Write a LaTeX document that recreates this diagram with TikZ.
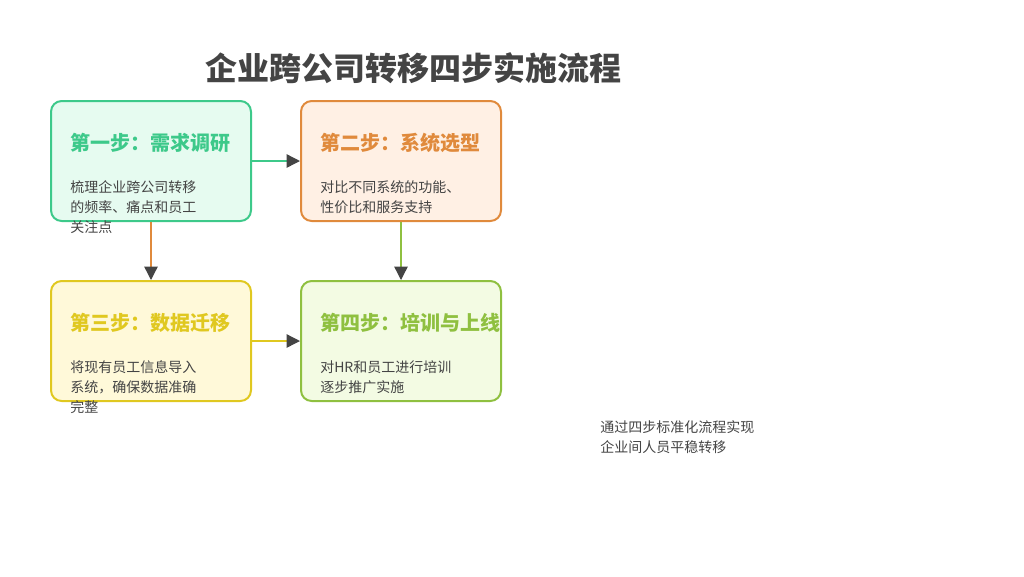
\documentclass[tikz,border=0pt]{standalone}
\usepackage{fontspec}
\setmainfont{Noto Sans CJK SC}
\newfontfamily\cjk{Noto Sans CJK SC}
\usetikzlibrary{arrows.meta}
\definecolor{cA}{HTML}{3DC98A}\definecolor{fA}{HTML}{E6FBF0}
\definecolor{cB}{HTML}{E08A3C}\definecolor{fB}{HTML}{FFF0E4}
\definecolor{cC}{HTML}{E0C820}\definecolor{fC}{HTML}{FFF9D9}
\definecolor{cD}{HTML}{8FC040}\definecolor{fD}{HTML}{F3FBE3}
\definecolor{tx}{HTML}{444444}
\tikzset{
 stepbox/.style={draw=#1, line width=1.5pt, rounded corners=8pt, minimum width=150pt, minimum height=90pt, anchor=north west},
 steptitle/.style={anchor=west, font=\fontsize{15}{18}\selectfont\bfseries, text=#1},
 stepbody/.style={anchor=north west, align=left, font=\fontsize{10.5}{15}\selectfont, text=tx, inner sep=0pt},
 conn/.style={line width=1pt, draw=#1, -{Triangle[length=10pt,width=10pt,color=tx]}}
}
\begin{document}
\begin{tikzpicture}[x=0.75pt,y=-0.75pt]
\useasboundingbox (0,0) rectangle (1024,576);
\node[font=\fontsize{24}{28}\selectfont\bfseries, text=tx] (title) at (413,68) {企业跨公司转移四步实施流程};
\node[stepbox=cA, fill=fA] (b1) at (50,100) {};
\node[stepbox=cB, fill=fB] (b2) at (300,100) {};
\node[stepbox=cC, fill=fC] (b3) at (50,280) {};
\node[stepbox=cD, fill=fD] (b4) at (300,280) {};
\node[steptitle=cA, inner sep=0pt] (t1) at (70,143) {第一步：需求调研};
\node[steptitle=cB, inner sep=0pt] (t2) at (320,143) {第二步：系统选型};
\node[steptitle=cC, inner sep=0pt] (t3) at (70,323) {第三步：数据迁移};
\node[steptitle=cD, inner sep=0pt] (t4) at (320,323) {第四步：培训与上线};
\node[stepbody] (d1) at (70,180) {梳理企业跨公司转移\\的频率、痛点和员工\\关注点};
\node[stepbody] (d2) at (320,180) {对比不同系统的功能、\\性价比和服务支持};
\node[stepbody] (d3) at (70,360) {将现有员工信息导入\\系统，确保数据准确\\完整};
\node[stepbody] (d4) at (320,360) {对HR和员工进行培训\\逐步推广实施};
\node[stepbody] (note) at (600,420) {通过四步标准化流程实现\\企业间人员平稳转移};
\draw[conn=cA] (b1.east) -- (b2.west);
\draw[conn=cB] (b1.south) -- (b3.north);
\draw[conn=cD] (b2.south) -- (b4.north);
\draw[conn=cC] (b3.east) -- (b4.west);
\end{tikzpicture}
\end{document}
